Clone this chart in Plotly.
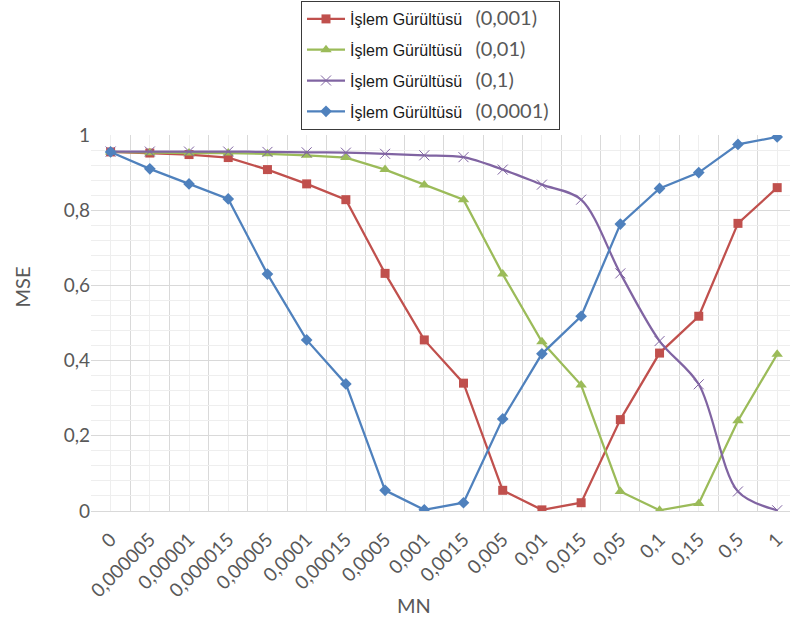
import plotly.graph_objects as go

# MN values (x categories)
mn_labels = ["0", "0,000005", "0,00001", "0,000015", "0,00005", "0,0001",
             "0,00015", "0,0005", "0,001", "0,0015", "0,005", "0,01",
             "0,015", "0,05", "0,1", "0,15", "0,5", "1"]

# MSE for each process-noise level
mse_noise_0_001 = [0.955, 0.952, 0.948, 0.940, 0.908, 0.870, 0.828, 0.632, 0.455,
                   0.340, 0.055, 0.003, 0.022, 0.243, 0.420, 0.518, 0.765, 0.860]
mse_noise_0_01 = [0.955, 0.953, 0.952, 0.952, 0.950, 0.946, 0.940, 0.908, 0.867,
                  0.828, 0.630, 0.450, 0.335, 0.052, 0.002, 0.020, 0.240, 0.417]
mse_noise_0_1 = [0.956, 0.956, 0.956, 0.956, 0.955, 0.954, 0.953, 0.950, 0.946,
                 0.941, 0.908, 0.868, 0.828, 0.632, 0.452, 0.337, 0.052, 0.002]
mse_noise_0_0001 = [0.955, 0.910, 0.870, 0.830, 0.630, 0.455, 0.338, 0.055, 0.003,
                    0.022, 0.245, 0.418, 0.518, 0.763, 0.858, 0.900, 0.975, 0.995]

noise_levels = ["(0,001)", "(0,01)", "(0,1)", "(0,0001)"]

x_idx = list(range(len(mn_labels)))

GRAY_FONT = "Lato, Open Sans, sans-serif"
TICK_FONT = dict(family=GRAY_FONT, size=19, color="#595959")


def legend_name(level):
    return ("İşlem Gürültüsü&nbsp;&nbsp;&nbsp;"
            "<span style='font-family:Lato;font-size:20px;fill:#595959'>"
            + level + "</span>&nbsp;")


series = [
    (mse_noise_0_001, "#C0504D", dict(symbol="square", size=9), "linear"),
    (mse_noise_0_01, "#9BBB59", dict(symbol="triangle-up", size=10), "linear"),
    (mse_noise_0_1, "#8064A2", dict(symbol="x-thin-open", size=10,
                                    line=dict(width=1, color="#8064A2")), "spline"),
    (mse_noise_0_0001, "#4F81BD", dict(symbol="diamond", size=9), "linear"),
]

fig = go.Figure()
for i, (vals, color, marker, shape) in enumerate(series):
    line = dict(color=color, width=2.25, shape=shape)
    if shape == "spline":
        line["smoothing"] = 0.9
    fig.add_trace(go.Scatter(
        x=x_idx, y=vals, mode="lines+markers",
        name=legend_name(noise_levels[i]),
        legendgroup="g%d" % i,
        line=line,
        marker=dict(color=color, **marker),
    ))

fig.update_layout(
    width=790, height=626,
    margin=dict(l=91, r=0, t=135, b=115, autoexpand=False),
    paper_bgcolor="white", plot_bgcolor="white",
    separators=",.",
    showlegend=True,
    legend=dict(
        xref="container", yref="container",
        x=301 / 790, y=1 - 1 / 626, xanchor="left", yanchor="top",
        bordercolor="#3a3a3a", borderwidth=1, bgcolor="white",
        font=dict(family="Liberation Sans, Arial, sans-serif", size=16, color="#1a1a1a"),
        tracegroupgap=7, itemwidth=38,
    ),
    xaxis=dict(
        range=[-0.5, -0.5 + 699 / 39.21],
        tickmode="array", tickvals=x_idx, ticktext=mn_labels,
        tickangle=-45, tickfont=TICK_FONT,
        ticks="", ticklabelstandoff=9,
        showgrid=True, gridcolor="#eeeeee", gridwidth=1,
        minor=dict(tick0=0.5, dtick=1, showgrid=True, gridcolor="#d9d9d9", gridwidth=1),
        showline=True, linecolor="#d9d9d9", linewidth=1,
        zeroline=False, fixedrange=True,
    ),
    yaxis=dict(
        range=[0, 1], dtick=0.2, tickfont=TICK_FONT,
        ticks="", ticklabelstandoff=0,
        showgrid=True, gridcolor="#d9d9d9", gridwidth=1,
        minor=dict(dtick=0.04, showgrid=True, gridcolor="#eeeeee", gridwidth=1),
        zeroline=False, showline=False, fixedrange=True,
    ),
    annotations=[
        dict(text="MSE", xref="paper", yref="paper",
             x=-91 / 699 + 21.5 / 699, y=(511 - 287) / 376,
             xanchor="center", yanchor="middle", textangle=-90, showarrow=False,
             font=dict(family=GRAY_FONT, size=20, color="#595959")),
        dict(text="MN", xref="paper", yref="paper",
             x=(414 - 91) / 699, y=-(605 - 511) / 376,
             xanchor="center", yanchor="middle", showarrow=False,
             font=dict(family=GRAY_FONT, size=20, color="#595959")),
    ],
)

fig.write_html("out.html")
